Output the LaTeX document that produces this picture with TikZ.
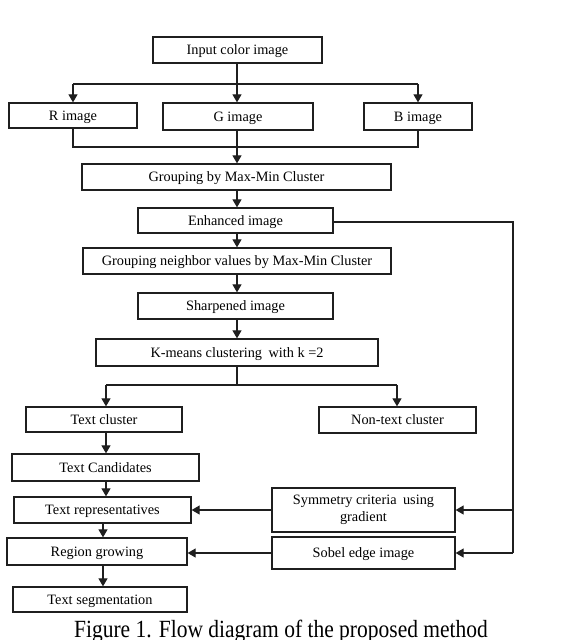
\documentclass[tikz,border=0pt]{standalone}
\usepackage{fontspec}
\setmainfont{Liberation Serif}
\usetikzlibrary{arrows.meta}
\begin{document}
\begin{tikzpicture}[x=1pt,y=-1pt,
  boxbase/.style={draw=black!88,line width=1.3pt,inner sep=0pt,font=\fontsize{14.3}{17}\selectfont,align=center},
  box/.style={boxbase,text height=11pt,text depth=2pt},
  ln/.style={draw=black!88,line width=1.2pt},
  arr/.style={ln,-{Triangle[length=8pt,width=9pt]}}]
\useasboundingbox[fill=white] (0,0) rectangle (578,640);
% boxes
\node[box,minimum width=169pt,minimum height=26pt] (in) at (237.5,50) {Input color image};
\node[box,minimum width=128pt,minimum height=25pt] (R) at (73,115.5) {R image};
\node[box,minimum width=150pt,minimum height=27pt] (G) at (238,116.5) {G image};
\node[box,minimum width=108pt,minimum height=27pt] (B) at (418,116.5) {B image};
\node[box,minimum width=309pt,minimum height=26pt] (grp) at (236.5,177) {Grouping by Max-Min Cluster};
\node[box,minimum width=195pt,minimum height=25pt] (enh) at (235.5,220.5) {Enhanced image};
\node[box,minimum width=308pt,minimum height=26pt] (gn) at (237,261) {Grouping neighbor values by Max-Min Cluster};
\node[box,minimum width=195pt,minimum height=26pt] (sh) at (235.5,306) {Sharpened image};
\node[box,minimum width=282pt,minimum height=27pt] (km) at (237,352.5) {K-means clustering\hspace{0.45em}with k =2};
\node[box,minimum width=156pt,minimum height=25pt] (tc) at (104,419.5) {Text cluster};
\node[box,minimum width=157pt,minimum height=26pt] (ntc) at (397.5,420) {Non-text cluster};
\node[box,minimum width=187pt,minimum height=27pt] (cand) at (105.5,467.5) {Text Candidates};
\node[box,minimum width=177pt,minimum height=26pt] (rep) at (102.5,510) {Text representatives};
\node[boxbase,minimum width=183pt,minimum height=44pt] (sym) at (363.5,510) {Symmetry criteria\hspace{0.45em}using\\gradient};
\node[box,minimum width=180pt,minimum height=27pt] (rg) at (97,551.5) {Region growing};
\node[box,minimum width=183pt,minimum height=32pt] (sob) at (363.5,553) {Sobel edge image};
\node[box,minimum width=174pt,minimum height=25pt] (seg) at (100,599.5) {Text segmentation};
% junctions
\coordinate (j1) at (237,84);
\coordinate (j2) at (237,147);
\coordinate (j3) at (237,385);
\coordinate (j4) at (513,222);
% top split
\draw[ln] (j1 |- in.south) -- (j1);
\draw[ln] (R.north |- j1) -- (B.north |- j1);
\draw[arr] (R.north |- j1) -- (R.north);
\draw[arr] (j1) -- (j1 |- G.north);
\draw[arr] (B.north |- j1) -- (B.north);
% merge
\draw[ln] (R.south) -- (R.south |- j2) -- (B.south |- j2) -- (B.south);
\draw[ln] (j2 |- G.south) -- (j2);
\draw[arr] (j2) -- (j2 |- grp.north);
% main chain
\draw[arr] (grp.south -| j2) -- (j2 |- enh.north);
\draw[arr] (enh.south -| j2) -- (j2 |- gn.north);
\draw[arr] (gn.south -| j2) -- (j2 |- sh.north);
\draw[arr] (sh.south -| j2) -- (j2 |- km.north);
% k-means split
\draw[ln] (km.south -| j3) -- (j3);
\coordinate (kl) at (106,385);
\coordinate (kr) at (397,385);
\draw[ln] (kl) -- (kr);
\draw[arr] (kl) -- (kl |- tc.north);
\draw[arr] (kr) -- (kr |- ntc.north);
% left chain
\draw[arr] (kl |- tc.south) -- (kl |- cand.north);
\draw[arr] (kl |- cand.south) -- (kl |- rep.north);
\coordinate (kx) at (103,0);
\draw[arr] (kx |- rep.south) -- (kx |- rg.north);
\draw[arr] (kx |- rg.south) -- (kx |- seg.north);
% right feedback
\draw[ln] (enh.east |- j4) -- (j4) -- (j4 |- sob.east);
\draw[arr] (j4 |- sym.east) -- (sym.east);
\draw[arr] (j4 |- sob.east) -- (sob.east);
\draw[arr] (sym.west) -- (rep.east);
\draw[arr] (sob.west) -- (sob.west -| rg.east);
% caption
\node[anchor=base,inner sep=0pt,font=\fontsize{21.5}{24}\selectfont,yscale=1.15] (cap) at (281,637) {Figure 1. Flow diagram of the proposed method};
\end{tikzpicture}
\end{document}
